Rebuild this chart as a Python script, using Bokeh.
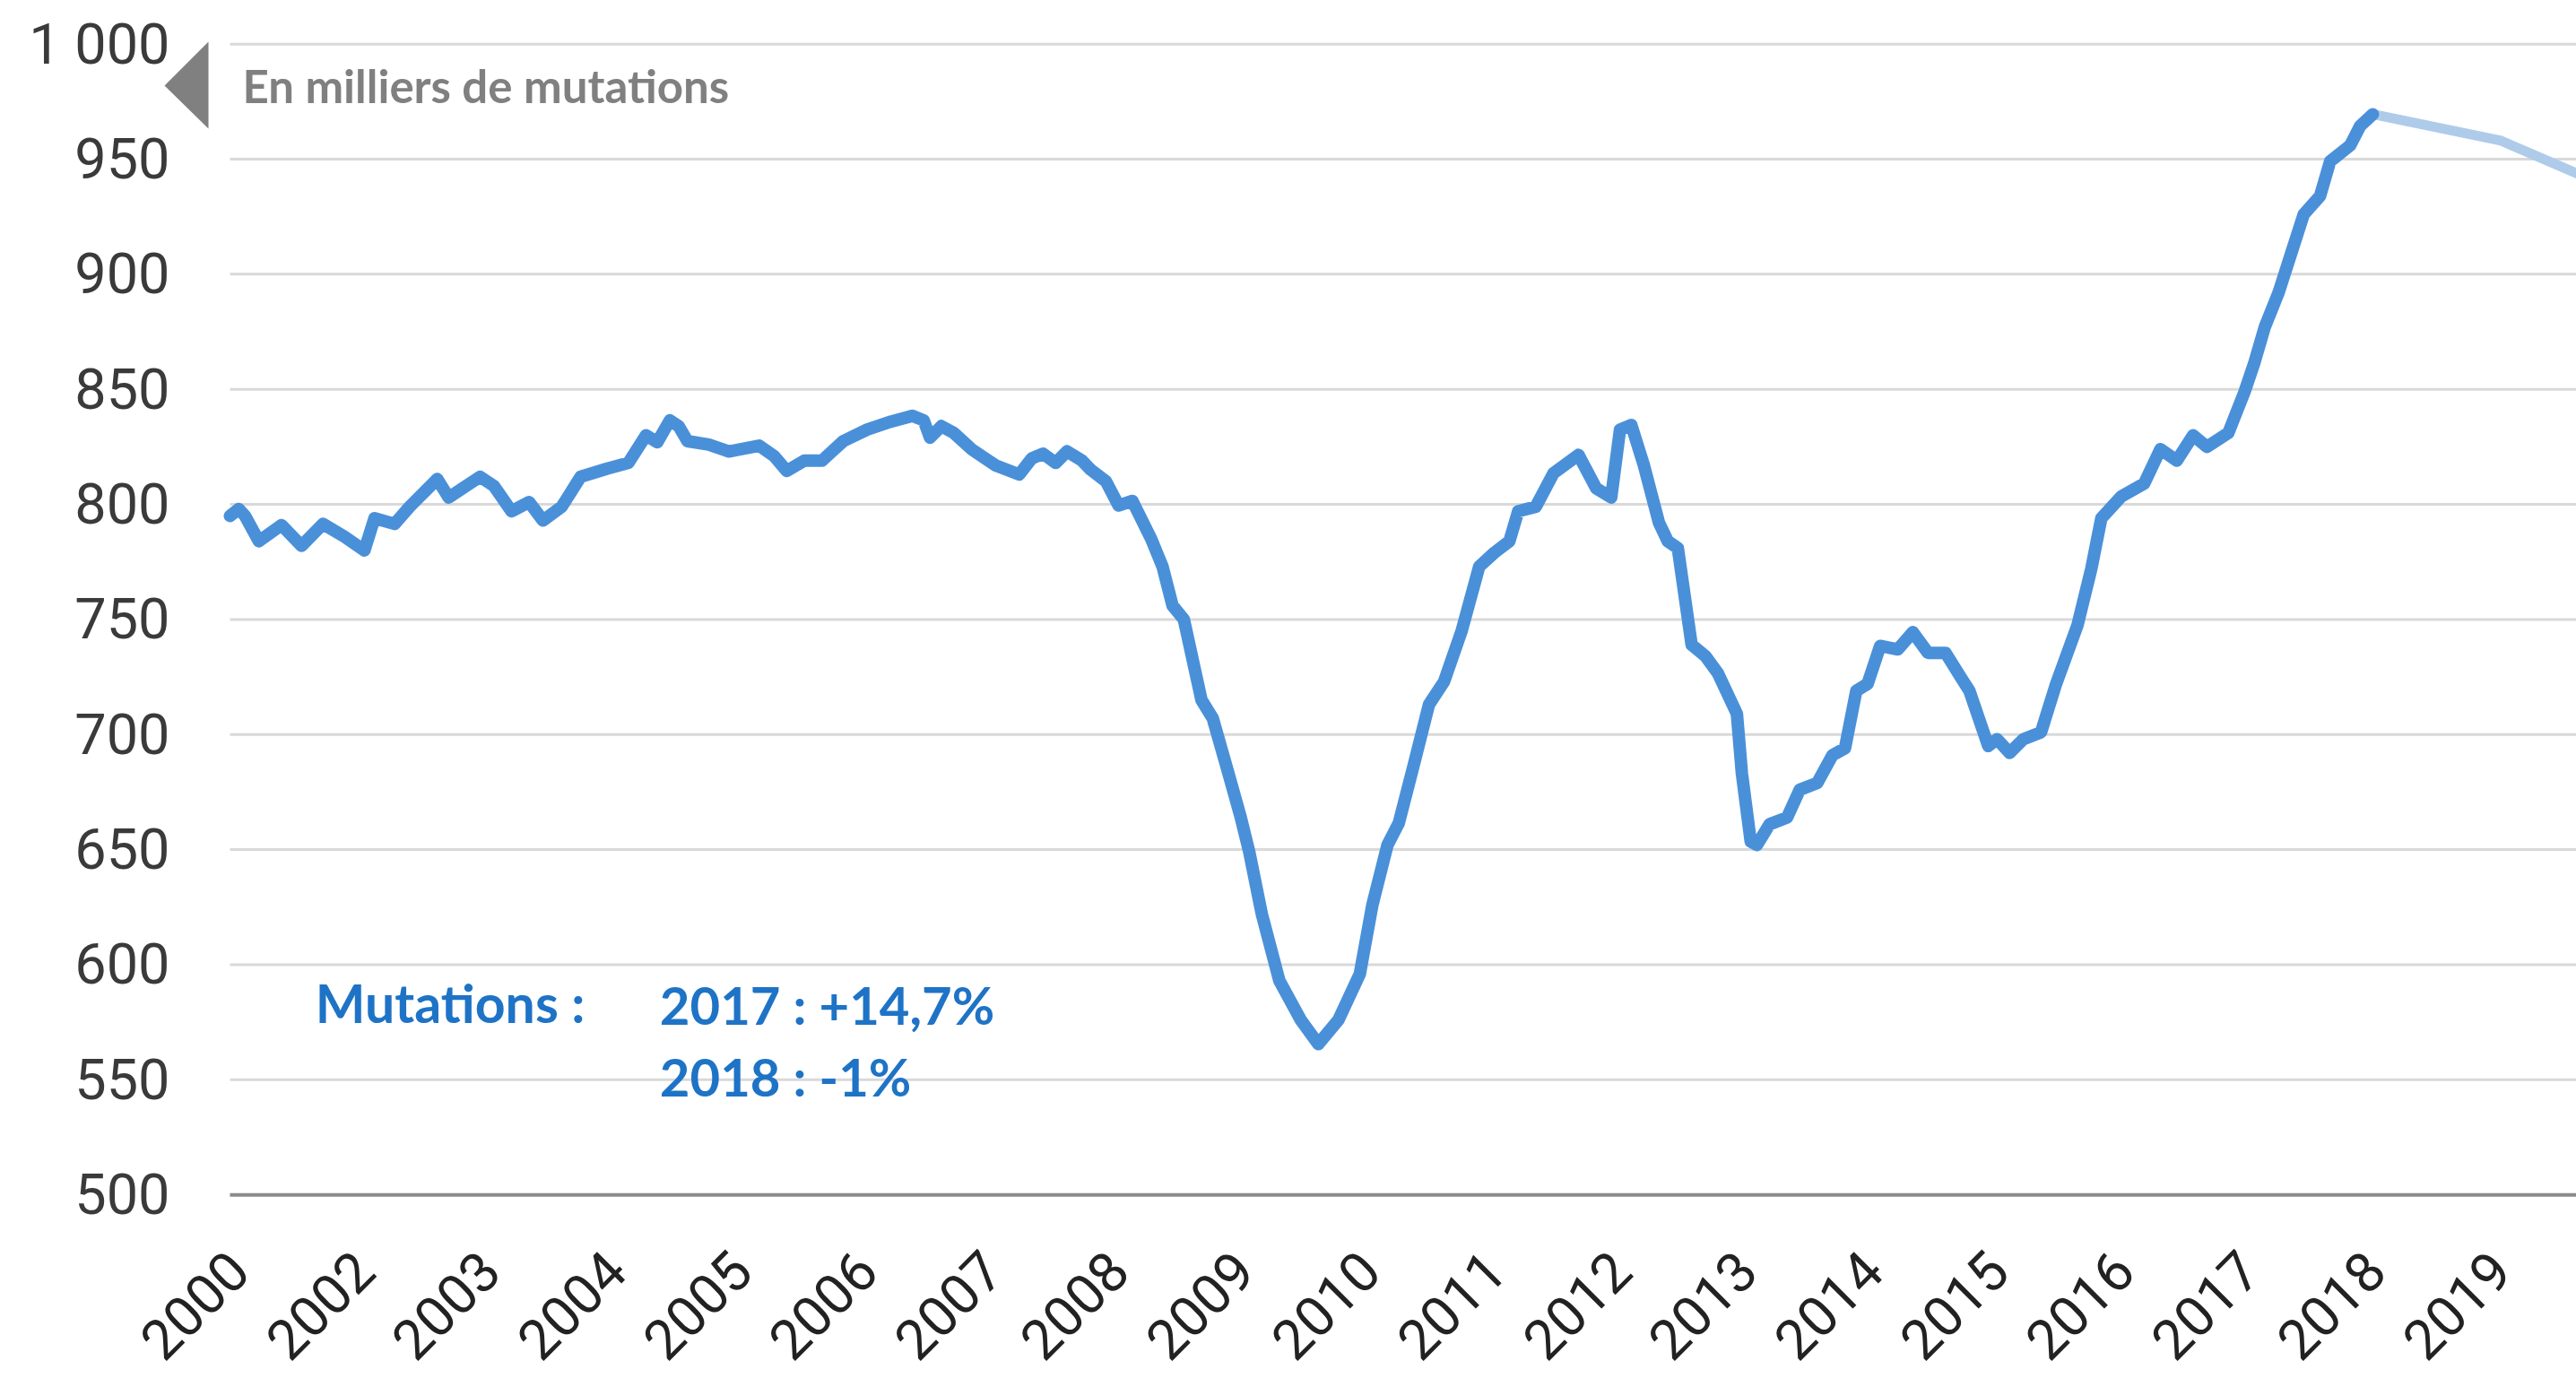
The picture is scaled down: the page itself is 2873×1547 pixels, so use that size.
import math
from bokeh.plotting import figure
from bokeh.models import FixedTicker, Range1d, Label, PolyAnnotation
from bokeh.embed import file_html
from bokeh.resources import INLINE

# ---- data ----
years = [
    2000.93, 2001.00, 2001.05, 2001.16, 2001.34, 2001.50, 2001.67, 2001.84, 2002.00, 2002.08,
    2002.24, 2002.36, 2002.58, 2002.67, 2002.92, 2003.03, 2003.17, 2003.31, 2003.42, 2003.57,
    2003.72, 2003.93, 2004.10, 2004.24, 2004.33, 2004.43, 2004.50, 2004.57, 2004.74, 2004.90,
    2005.14, 2005.26, 2005.36, 2005.50, 2005.64, 2005.81, 2006.00, 2006.19, 2006.36, 2006.45,
    2006.50, 2006.59, 2006.69, 2006.83, 2007.02, 2007.21, 2007.31, 2007.40, 2007.50, 2007.59,
    2007.71, 2007.78, 2007.90, 2008.00, 2008.11, 2008.26, 2008.35, 2008.43, 2008.52, 2008.66,
    2008.75, 2008.87, 2008.97, 2009.04, 2009.14, 2009.28, 2009.45, 2009.59, 2009.75, 2009.92,
    2010.02, 2010.14, 2010.23, 2010.35, 2010.47, 2010.59, 2010.73, 2010.87, 2010.99, 2011.11,
    2011.18, 2011.32, 2011.46, 2011.66, 2011.80, 2011.92, 2011.99, 2012.08, 2012.18, 2012.30,
    2012.37, 2012.45, 2012.56, 2012.67, 2012.77, 2012.92, 2012.96, 2013.03, 2013.08, 2013.18,
    2013.32, 2013.42, 2013.56, 2013.68, 2013.78, 2013.87, 2013.96, 2014.06, 2014.20, 2014.32,
    2014.44, 2014.58, 2014.70, 2014.77, 2014.92, 2014.99, 2015.09, 2015.20, 2015.34, 2015.46,
    2015.63, 2015.74, 2015.82, 2015.98, 2016.16, 2016.29, 2016.42, 2016.55, 2016.66, 2016.83,
    2016.96, 2017.04, 2017.12, 2017.23, 2017.33, 2017.43, 2017.56, 2017.64, 2017.80, 2017.88,
    2017.98,
]
mutations = [
    795, 798, 795, 784, 791, 782, 791.5, 786, 780, 794,
    791.5, 799, 811, 803, 812, 808, 797, 801, 793, 799,
    812, 815.5, 818, 830, 827, 836.5, 834, 827.5, 826, 823,
    825.5, 821, 814.5, 819, 819, 827.5, 832.5, 836, 838.5, 836.5,
    829, 834, 831, 824, 817, 813, 820, 822, 818, 823,
    819, 815, 810, 799.5, 801.5, 785, 773, 756, 750, 715,
    707, 684, 664.5, 649, 622, 593, 576, 565.5, 576, 596,
    626, 652, 661.5, 687, 713, 723, 745, 773, 779, 784,
    797, 799, 813.5, 821.5, 807, 803, 832.5, 834.5, 817, 792,
    784, 781, 739, 734, 726.5, 709, 683, 653.5, 652, 661,
    664, 676, 679, 691, 694, 719, 722, 738.5, 737, 744.5,
    735.5, 735.5, 725, 719, 695, 698, 692, 698, 701, 722,
    747.5, 772, 794, 803.5, 809, 824, 819, 830, 825, 831,
    849, 862, 877, 892, 909, 926, 934, 949, 956, 964.5,
    969.5,
]
proj_years = [2017.98, 2019.0, 2020.0]
proj_values = [969.5, 958, 934.5]

tick_years = list(range(2001, 2020))
tick_labels = ["2000", "2002", "2003", "2004", "2005", "2006", "2007", "2008", "2009",
               "2010", "2011", "2012", "2013", "2014", "2015", "2016", "2017", "2018", "2019"]
y_ticks = [500, 550, 600, 650, 700, 750, 800, 850, 900, 950, 1000]
y_labels = ["500", "550", "600", "650", "700", "750", "800", "850", "900", "950", "1 000"]

X_START, X_END = 2000.388, 2019.6

# ---- figure ----
p = figure(width=2873, height=1547, output_backend="svg", toolbar_location=None,
           x_range=Range1d(X_START, X_END), y_range=Range1d(498.5, 1010),
           min_border_left=180, min_border_right=0, min_border_top=23, min_border_bottom=211)
p.outline_line_color = None
p.background_fill_color = "white"
p.border_fill_color = "white"

# y axis
p.yaxis.ticker = FixedTicker(ticks=y_ticks)
p.yaxis.major_label_overrides = dict(zip(y_ticks, y_labels))
p.yaxis.axis_line_color = None
p.yaxis.major_tick_line_color = None
p.yaxis.minor_tick_line_color = None
p.yaxis.major_tick_out = 0
p.yaxis.major_tick_in = 0
p.yaxis.major_label_standoff = -9
p.yaxis.major_label_text_font = "Roboto"
p.yaxis.major_label_text_font_size = "63px"
p.yaxis.major_label_text_color = "#3a3a3a"

# x axis
p.xaxis.ticker = FixedTicker(ticks=tick_years)
p.xaxis.major_label_overrides = dict(zip(tick_years, tick_labels))
p.xaxis.axis_line_color = None
p.xaxis.major_tick_line_color = None
p.xaxis.minor_tick_line_color = None
p.xaxis.major_tick_out = 0
p.xaxis.major_tick_in = 0
p.xaxis.major_label_orientation = math.pi / 4
p.xaxis.major_label_standoff = 70
p.xaxis.major_label_text_font = "Roboto"
p.xaxis.major_label_text_font_size = "62px"
p.xaxis.major_label_text_color = "#222222"

# grid lines (start where the series starts), baseline darker
p.xgrid.grid_line_color = None
p.ygrid.grid_line_color = None
grid_vals = y_ticks[1:]
p.segment(x0=[years[0]] * len(grid_vals), y0=grid_vals,
          x1=[X_END] * len(grid_vals), y1=grid_vals,
          line_color="#d9d9d9", line_width=3)
p.segment(x0=[years[0]], y0=[y_ticks[0]], x1=[X_END], y1=[y_ticks[0]],
          line_color="#8a8a8a", line_width=4)

# series
p.line(proj_years, proj_values, line_width=11, color="#aecbea", line_cap="round")
p.line(years, mutations, line_width=14, color="#4a90d9", line_join="round", line_cap="round")

# annotations
p.add_layout(PolyAnnotation(xs=[232, 232, 183], ys=[46, 143, 95],
                            xs_units="canvas", ys_units="canvas",
                            fill_color="#808080", fill_alpha=1.0, line_color=None))
p.add_layout(Label(x=2001.03, y=982, text="En milliers de mutations", text_font="Lato",
                   text_font_style="bold", text_font_size="51px", text_color="#808080",
                   text_baseline="middle"))
p.add_layout(Label(x=2001.61, y=583.5, text="Mutations :", text_font="Lato",
                   text_font_style="bold", text_font_size="59px", text_color="#1e73c6",
                   text_baseline="middle"))
p.add_layout(Label(x=2004.35, y=582.5, text="2017 : +14,7%", text_font="Lato",
                   text_font_style="bold", text_font_size="58px", text_color="#1e73c6",
                   text_baseline="middle"))
p.add_layout(Label(x=2004.35, y=551.5, text="2018 : -1%", text_font="Lato",
                   text_font_style="bold", text_font_size="58px", text_color="#1e73c6",
                   text_baseline="middle"))

open("out.html", "w").write(file_html(p, INLINE))
